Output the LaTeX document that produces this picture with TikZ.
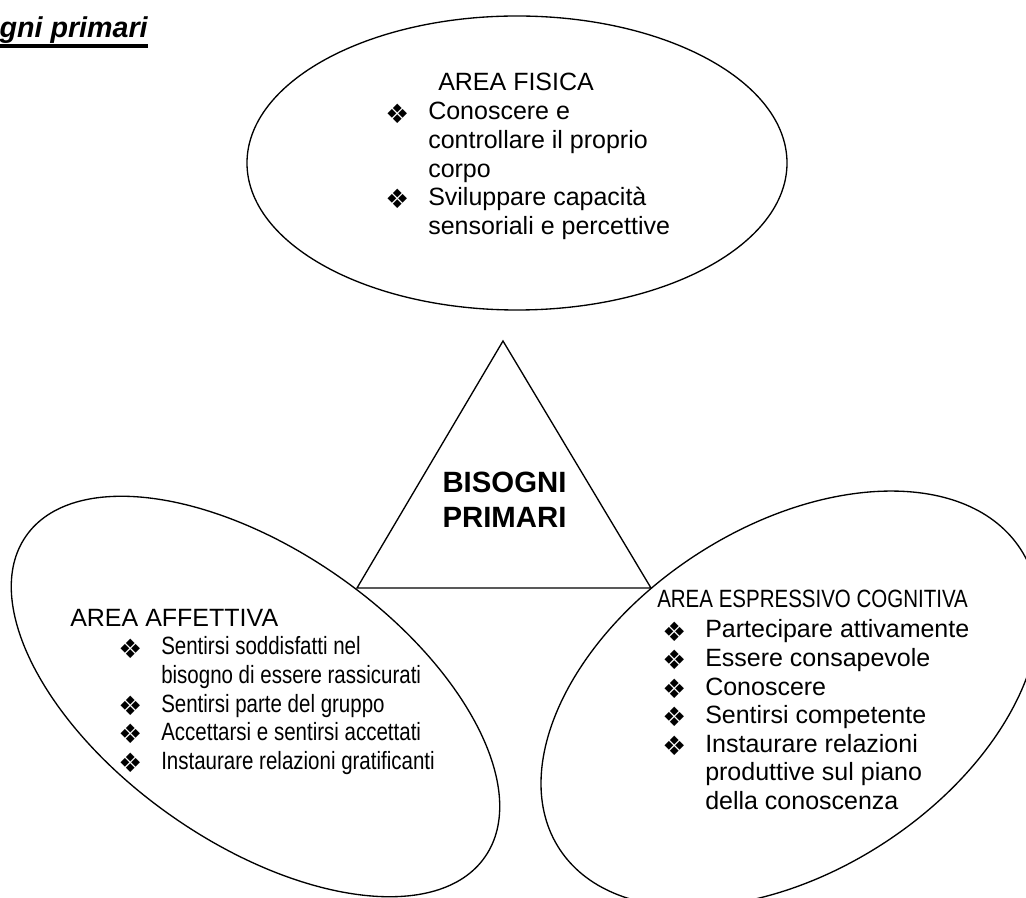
\documentclass[tikz,border=0pt]{standalone}
\usepackage{fontspec}
\setmainfont{Liberation Sans}
\newfontfamily\narrowfont{Liberation Sans}[FakeStretch=0.82]
\newfontfamily\bulletfont{DejaVu Sans}
\newcommand{\bul}{\makebox[32.25pt][l]{\raisebox{-2.5pt}{\bulletfont\fontsize{20}{20}\selectfont ❖}}}
\tikzset{
  contorno/.style={line width=1pt},
  areatxt/.style={anchor=base west, inner sep=0pt, font=\fontsize{18.75}{21.4}\selectfont},
  areanarrow/.style={areatxt, font=\narrowfont\fontsize{18.75}{21.4}\selectfont}
}

\begin{document}
\begin{tikzpicture}[x=0.75pt,y=0.75pt,yscale=-1,xscale=1]
\useasboundingbox (0,0) rectangle (1026,898);
\clip (0,0) rectangle (1026,898);

\draw (148,38) node [anchor=base east, inner sep=0pt, font=\fontsize{21.5}{25}\selectfont\bfseries\itshape] (titolo) {gni primari};
\draw [line width=2.4pt] (titolo.base west |- 0,46) -- (titolo.base east |- 0,46);

% le tre aree
\draw [contorno] (517,163) ellipse [x radius=270, y radius=147];
\draw [contorno, rotate around={35:(255.5,696.5)}] (255.5,696.5) ellipse [x radius=280, y radius=146];
\draw [contorno, rotate around={-33:(790,699)}] (790,699) ellipse [x radius=275, y radius=172];
\draw [contorno] (357,588) -- (503,341) -- (651,588) -- cycle;

\draw (504.5,493) node [anchor=base, inner sep=0pt, font=\fontsize{22}{26.25}\selectfont\bfseries] (centro) {\begin{tabular}[t]{@{}c@{}}BISOGNI\\PRIMARI\end{tabular}};

\draw (438,91) node [areatxt] (fisica) {AREA FISICA};
\draw (385,120) node [areatxt] (fisicalist) {\begin{tabular}[t]{@{}l@{}l@{}}
\bul & Conoscere e\\
 & controllare il proprio\\
 & corpo\\
\bul & Sviluppare capacità\\
 & sensoriali e percettive
\end{tabular}};

\draw (70,627) node [areatxt] (affettiva) {AREA AFFETTIVA};
\draw (118,655) node [areanarrow] (affettivalist) {\begin{tabular}[t]{@{}l@{}l@{}}
\bul & Sentirsi soddisfatti nel\\
 & bisogno di essere rassicurati\\
\bul & Sentirsi parte del gruppo\\
\bul & Accettarsi e sentirsi accettati\\
\bul & Instaurare relazioni gratificanti
\end{tabular}};

\draw (657,608) node [areanarrow] (cognitiva) {AREA ESPRESSIVO COGNITIVA};
\draw (662,638) node [areatxt] (cognitivalist) {\begin{tabular}[t]{@{}l@{}l@{}}
\bul & Partecipare attivamente\\
\bul & Essere consapevole\\
\bul & Conoscere\\
\bul & Sentirsi competente\\
\bul & Instaurare relazioni\\
 & produttive sul piano\\
 & della conoscenza
\end{tabular}};

\end{tikzpicture}
\end{document}
